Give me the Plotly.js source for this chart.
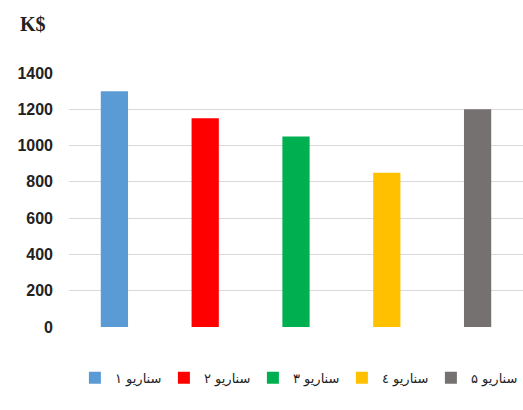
<!DOCTYPE html>
<html>
<head>
<meta charset="utf-8">
<script src="https://cdn.plot.ly/plotly-3.0.1.min.js"></script>
<style>html,body{margin:0;padding:0;background:#fff;}#chart{width:523px;height:410px;}</style>
</head>
<body>
<div id="chart"></div>
<script>
const categories = ["سناریو ۱", "سناریو ۲", "سناریو ۳", "سناریو ٤", "سناریو ۵"];
const values = [1300, 1150, 1050, 850, 1200];
const colors = ["#5B9BD5", "#FF0000", "#00B050", "#FFC000", "#767171"];
const yTicks = [0, 200, 400, 600, 800, 1000, 1200, 1400];

const traces = categories.map((c, i) => ({
  type: "bar",
  name: c,
  x: [c],
  y: [values[i]],
  marker: {color: colors[i]},
  width: 0.3,
  hoverinfo: "skip"
}));

const layout = {
  width: 523,
  height: 410,
  margin: {l: 69, r: 0, t: 73, b: 83, autoexpand: false},
  paper_bgcolor: "#fff",
  plot_bgcolor: "#fff",
  barmode: "overlay",
  showlegend: true,
  xaxis: {
    categoryorder: "array",
    categoryarray: categories,
    showticklabels: false,
    showgrid: false,
    zeroline: false,
    showline: false,
    ticks: ""
  },
  yaxis: {
    range: [0, 1400],
    tickvals: yTicks,
    ticktext: yTicks.map(String),
    showgrid: true,
    gridcolor: "#D9D9D9",
    gridwidth: 1,
    zeroline: false,
    showline: false,
    ticks: "",
    ticklabelstandoff: 15,
    tickfont: {family: "Liberation Sans, Arial, sans-serif", size: 16, color: "#222", weight: "bold"}
  },
  legend: {
    orientation: "h",
    x: 0.013,
    xanchor: "left",
    y: -0.2,
    yanchor: "middle",
    entrywidth: 44,
    entrywidthmode: "pixels",
    traceorder: "normal",
    font: {family: "DejaVu Sans, sans-serif", size: 13, color: "#222"}
  },
  annotations: [{
    text: "K$",
    xref: "paper", yref: "paper",
    x: -0.112, y: 1.193,
    xanchor: "left", yanchor: "middle",
    showarrow: false,
    font: {family: "Liberation Serif, serif", size: 20, color: "#222", weight: "bold"}
  }]
};

Plotly.newPlot("chart", traces, layout, {staticPlot: true, displayModeBar: false});
</script>
</body>
</html>
